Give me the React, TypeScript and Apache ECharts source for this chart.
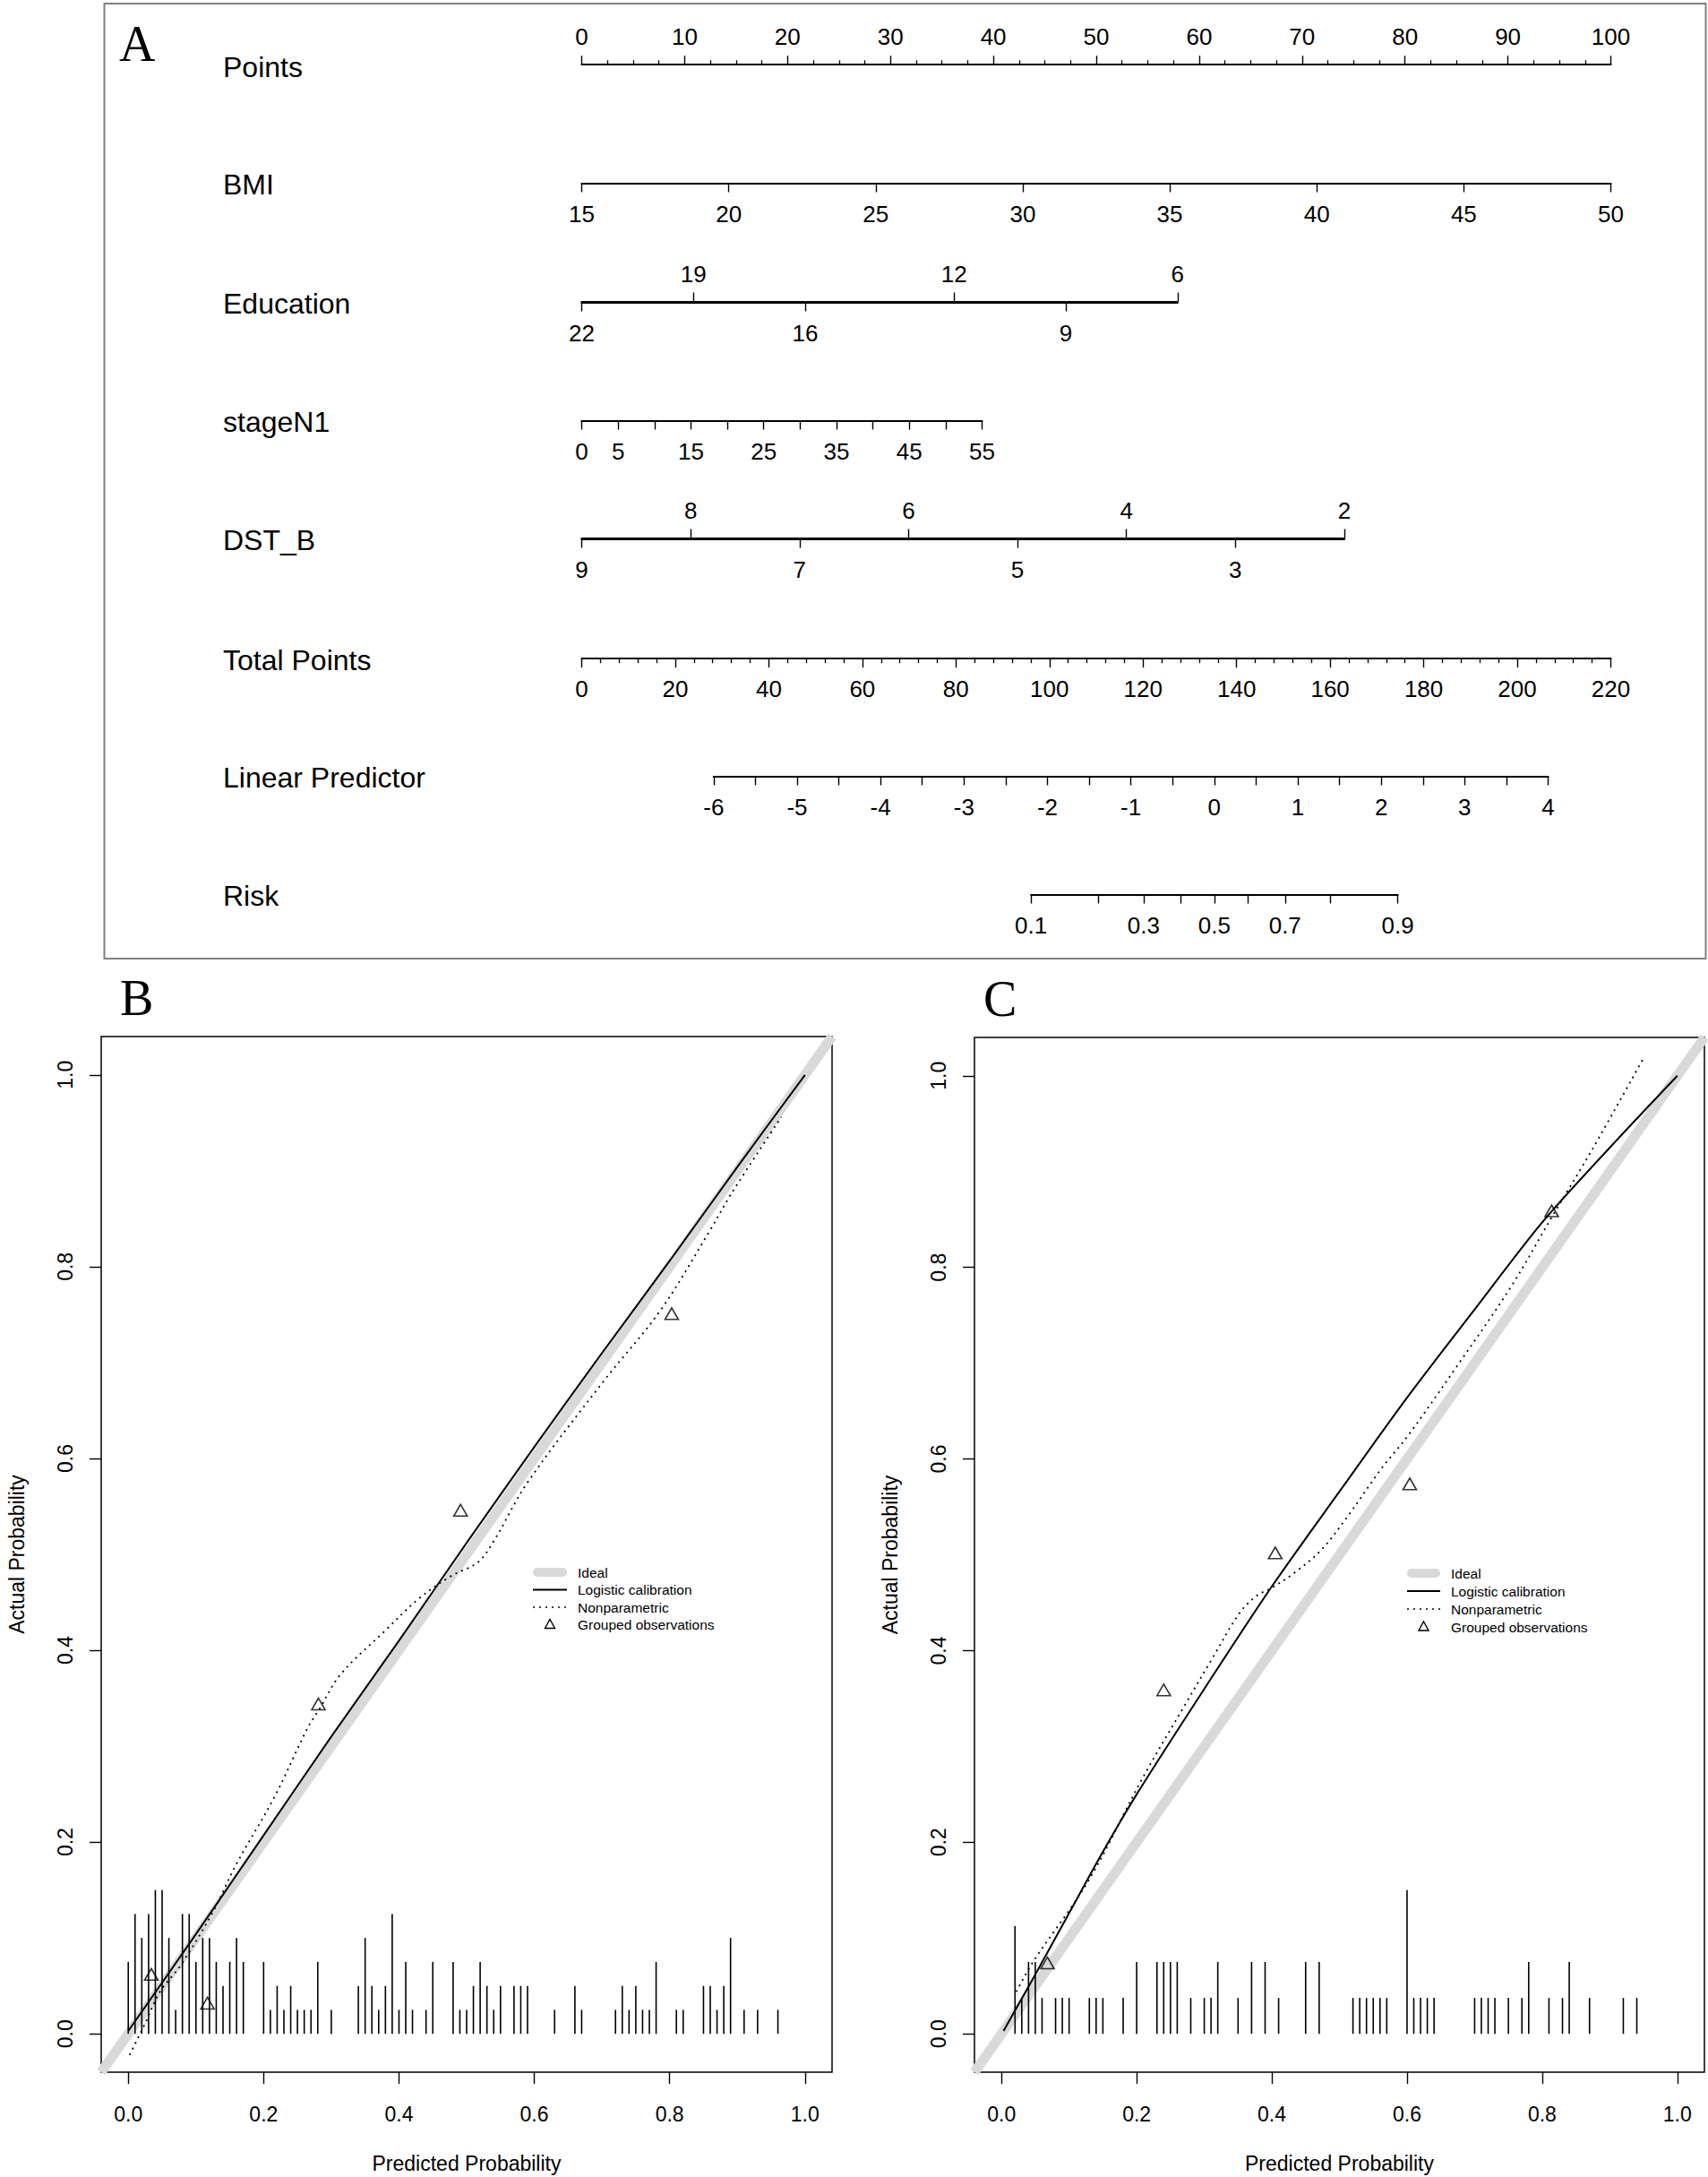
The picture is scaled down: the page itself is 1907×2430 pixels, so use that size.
import React, { useEffect, useRef } from "react";
import * as echarts from "echarts";

// ---------------- Panel A: nomogram values ----------------
const rowLabels = ["Points", "BMI", "Education", "stageN1", "DST_B", "Total Points", "Linear Predictor", "Risk"];
const pointsRange = [0, 100];
const bmiRange = [15, 50];
const bmiPoints = [0, 100];
const eduRange = [6, 22];
const eduPoints = [0, 57.9]; // 22 -> 0 pts, 6 -> 57.9 pts
const eduTopTicks = [19, 12, 6];
const eduBottomTicks = [22, 16, 9];
const stageRange = [0, 55];
const stagePoints = [0, 38.9];
const stageLabels = [0, 5, 15, 25, 35, 45, 55];
const dstRange = [2, 9];
const dstPoints = [0, 74.1]; // 9 -> 0 pts, 2 -> 74.1 pts
const dstTopTicks = [8, 6, 4, 2];
const dstBottomTicks = [9, 7, 5, 3];
const totalRange = [0, 220];
const lpRange = [-6, 4];
const lpTotalPoints = [28.2, 206.6];
const lpLabels = [-6, -5, -4, -3, -2, -1, 0, 1, 2, 3, 4];
const riskTicks = [0.1, 0.2, 0.3, 0.4, 0.5, 0.6, 0.7, 0.8, 0.9];
const riskLabels = [0.1, 0.3, 0.5, 0.7, 0.9];

// ---------------- Panels B and C: calibration values ----------------
const calTicks = [0, 0.2, 0.4, 0.6, 0.8, 1.0];
const calRange = [-0.04, 1.04];
const legendLabels = ["Ideal", "Logistic calibration", "Nonparametric", "Grouped observations"];

const logisticB = [
  [0, 0.003], [0.1, 0.104], [0.2, 0.207], [0.3, 0.31], [0.4, 0.41], [0.5, 0.512],
  [0.6, 0.612], [0.7, 0.71], [0.8, 0.806], [0.9, 0.904], [1.0, 1.0],
];
const nonparB = [
  [0.002, -0.022], [0.026, 0.0125], [0.047, 0.044], [0.078, 0.072], [0.125, 0.127],
  [0.159, 0.176], [0.216, 0.247], [0.265, 0.319], [0.281, 0.337], [0.314, 0.375],
  [0.379, 0.42], [0.428, 0.453], [0.476, 0.477], [0.517, 0.492], [0.541, 0.515],
  [0.59, 0.575], [0.704, 0.682], [0.786, 0.754], [0.859, 0.837], [0.891, 0.876], [0.965, 0.956],
];
const groupedB = [[0.034, 0.062], [0.117, 0.032], [0.281, 0.344], [0.491, 0.546], [0.803, 0.751]];
const rugBx = [
  0, 0.01, 0.02, 0.03, 0.04, 0.05, 0.06, 0.07, 0.08, 0.09, 0.1, 0.11, 0.12, 0.13, 0.14, 0.15, 0.16, 0.17,
  0.2, 0.21, 0.22, 0.23, 0.24, 0.25, 0.26, 0.27, 0.28, 0.3, 0.34, 0.35, 0.36, 0.37, 0.38, 0.39, 0.4,
  0.41, 0.42, 0.44, 0.45, 0.48, 0.49, 0.5, 0.51, 0.52, 0.53, 0.54, 0.55, 0.57, 0.58, 0.59, 0.63, 0.66,
  0.67, 0.72, 0.73, 0.74, 0.75, 0.76, 0.77, 0.78, 0.81, 0.82, 0.85, 0.86, 0.87, 0.88, 0.89, 0.91, 0.93, 0.96,
];
const rugBn = [
  3, 5, 4, 5, 6, 6, 4, 1, 5, 5, 3, 4, 4, 3, 2, 3, 4, 3,
  3, 1, 2, 1, 2, 1, 1, 1, 3, 1, 2, 4, 2, 1, 2, 5, 1,
  3, 1, 1, 3, 3, 1, 1, 2, 3, 2, 1, 2, 2, 2, 2, 1, 2,
  1, 1, 2, 1, 2, 1, 1, 3, 1, 1, 2, 2, 1, 2, 4, 1, 1, 1,
];

const logisticC = [
  [0.003, 0.003], [0.05, 0.062], [0.1, 0.126], [0.15, 0.19], [0.2, 0.25], [0.3, 0.36],
  [0.4, 0.467], [0.5, 0.566], [0.6, 0.664], [0.7, 0.756], [0.8, 0.847], [0.9, 0.925], [1.0, 1.0],
];
const nonparC = [
  [0.022, 0.044], [0.047, 0.0755], [0.128, 0.159], [0.208, 0.266], [0.272, 0.344],
  [0.312, 0.392], [0.352, 0.439], [0.377, 0.457], [0.401, 0.466], [0.433, 0.481],
  [0.473, 0.505], [0.513, 0.541], [0.561, 0.589], [0.601, 0.624], [0.673, 0.696],
  [0.754, 0.78], [0.818, 0.857], [0.874, 0.923], [0.95, 1.0185],
];
const groupedC = [[0.068, 0.074], [0.24, 0.359], [0.405, 0.502], [0.604, 0.574], [0.814, 0.859]];
const rugCx = [
  0.02, 0.03, 0.04, 0.05, 0.06, 0.08, 0.09, 0.1, 0.13, 0.14, 0.15, 0.18, 0.2, 0.23, 0.24, 0.25, 0.26,
  0.28, 0.3, 0.31, 0.32, 0.35, 0.37, 0.39, 0.41, 0.45, 0.47, 0.52, 0.53, 0.54, 0.55, 0.56, 0.57, 0.6,
  0.61, 0.62, 0.63, 0.64, 0.7, 0.71, 0.72, 0.73, 0.75, 0.77, 0.78, 0.81, 0.83, 0.84, 0.87, 0.92, 0.94,
];
const rugCn = [
  3, 1, 2, 2, 1, 1, 1, 1, 1, 1, 1, 1, 2, 2, 2, 2, 2,
  1, 1, 1, 2, 1, 2, 2, 1, 2, 2, 1, 1, 1, 1, 1, 1, 4,
  1, 1, 1, 1, 1, 1, 1, 1, 1, 1, 2, 1, 1, 2, 1, 1, 1,
];
const riserMax = 0.15;

// ---------------- layout ----------------
const SANS = "'Liberation Sans', Arial, Helvetica, sans-serif";
const SERIF = "'Liberation Serif', 'Times New Roman', serif";
const P0X = 649.5;
const P100X = 1798.5;
const ptX = (p: number) => P0X + (p / 100) * (P100X - P0X);
const totX = (t: number) => P0X + (t / totalRange[1]) * (P100X - P0X);
const logit = (p: number) => Math.log(p / (1 - p));
const expit = (v: number) => 1 / (1 + Math.exp(-v));
const lpLeft = totX(lpTotalPoints[0]);
const lpRight = totX(lpTotalPoints[1]);
const lpX = (v: number) => lpLeft + ((v - lpRange[0]) / (lpRange[1] - lpRange[0])) * (lpRight - lpLeft);
const rowY = [72.7, 204, 337, 469, 601, 734.7, 866, 998];

function nomGrid(i: number, x0: number, x1: number) {
  return { left: x0, top: rowY[i] - 0.5, width: x1 - x0, height: 1, outerBoundsMode: "none", containLabel: false };
}

function nomAxis(gridIndex: number, position: string, min: number, max: number, opts: any = {}) {
  return {
    gridIndex,
    type: "value",
    position,
    min,
    max,
    inverse: !!opts.inverse,
    interval: opts.interval,
    splitLine: { show: false },
    axisLine: { show: true, onZero: false, lineStyle: { color: "#000", width: 2.2 } },
    axisTick: {
      show: true,
      length: 10,
      inside: false,
      lineStyle: { color: "#000", width: 1.4 },
      ...(opts.tickValues ? { customValues: opts.tickValues } : {}),
    },
    minorTick: opts.minor
      ? { show: true, splitNumber: opts.minor, length: 5, lineStyle: { color: "#000", width: 1.3 } }
      : { show: false },
    axisLabel: {
      show: true,
      margin: position === "top" ? 18 : 21,
      color: "#000",
      fontFamily: SANS,
      fontSize: 26,
      showMinLabel: true,
      showMaxLabel: true,
      ...(opts.labelValues ? { customValues: opts.labelValues } : {}),
      ...(opts.formatter ? { formatter: opts.formatter } : {}),
    },
  };
}

function calXAxis(gridIndex: number) {
  return {
    gridIndex,
    type: "value",
    min: calRange[0],
    max: calRange[1],
    position: "bottom",
    splitLine: { show: false },
    axisLine: { show: false, onZero: false },
    axisTick: { show: true, length: 13, inside: false, customValues: calTicks, lineStyle: { color: "#000", width: 1.4 } },
    axisLabel: {
      margin: 35,
      color: "#000",
      fontFamily: SANS,
      fontSize: 23,
      customValues: calTicks,
      formatter: (v: number) => v.toFixed(1),
    },
    name: "Predicted Probability",
    nameLocation: "middle",
    nameGap: 90,
    nameMoveOverlap: false,
    nameTextStyle: { color: "#000", fontFamily: SANS, fontSize: 23 },
  };
}

function calYAxis(gridIndex: number) {
  return {
    gridIndex,
    type: "value",
    min: calRange[0],
    max: calRange[1],
    position: "left",
    splitLine: { show: false },
    axisLine: { show: false, onZero: false },
    axisTick: { show: true, length: 13, inside: false, customValues: calTicks, lineStyle: { color: "#000", width: 1.4 } },
    axisLabel: {
      margin: 29,
      rotate: 90,
      color: "#000",
      fontFamily: SANS,
      fontSize: 23,
      customValues: calTicks,
      formatter: (v: number) => v.toFixed(1),
    },
    name: "Actual Probability",
    nameLocation: "middle",
    nameRotate: 90,
    nameGap: 83,
    nameMoveOverlap: false,
    nameTextStyle: { color: "#000", fontFamily: SANS, fontSize: 23 },
  };
}

function panelSeries(xAxisIndex: number, yAxisIndex: number, logistic: number[][], nonpar: number[][], grouped: number[][], rugX: number[], rugN: number[]) {
  const maxN = Math.max(...rugN);
  const rug = rugX.map((x, i) => [x, (rugN[i] / maxN) * riserMax]);
  return [
    {
      type: "line",
      xAxisIndex,
      yAxisIndex,
      data: [[calRange[0], calRange[0]], [calRange[1], calRange[1]]],
      showSymbol: false,
      silent: true,
      z: 1,
      lineStyle: { color: "#d9d9d9", width: 11 },
    },
    {
      type: "custom",
      xAxisIndex,
      yAxisIndex,
      data: rug,
      z: 2,
      silent: true,
      renderItem: (params: any, api: any) => {
        const p0 = api.coord([api.value(0), 0]);
        const p1 = api.coord([api.value(0), api.value(1)]);
        return {
          type: "line",
          shape: { x1: p0[0], y1: p0[1], x2: p1[0], y2: p1[1] },
          style: { stroke: "#000", lineWidth: 1.6 },
        };
      },
    },
    {
      type: "line",
      xAxisIndex,
      yAxisIndex,
      data: logistic,
      smooth: 0.3,
      showSymbol: false,
      silent: true,
      z: 3,
      lineStyle: { color: "#000", width: 2 },
    },
    {
      type: "line",
      xAxisIndex,
      yAxisIndex,
      data: nonpar,
      smooth: 0.35,
      showSymbol: false,
      silent: true,
      z: 3,
      lineStyle: { color: "#000", width: 1.8, type: [2, 5] },
    },
    {
      type: "scatter",
      xAxisIndex,
      yAxisIndex,
      data: grouped,
      symbol: "triangle",
      symbolSize: [15, 13],
      silent: true,
      z: 4,
      itemStyle: { color: "rgba(0,0,0,0)", borderColor: "#000", borderWidth: 1.6 },
    },
  ];
}

function legendGraphics(lineX0: number, lineX1: number, textX: number, y0: number, dy: number) {
  const els: any[] = [];
  const ys = [0, 1, 2, 3].map((i) => y0 + i * dy);
  els.push({ type: "line", shape: { x1: lineX0 + 5, y1: ys[0], x2: lineX1 - 5, y2: ys[0] }, style: { stroke: "#d9d9d9", lineWidth: 10, lineCap: "round" } });
  els.push({ type: "line", shape: { x1: lineX0, y1: ys[1], x2: lineX1, y2: ys[1] }, style: { stroke: "#000", lineWidth: 1.8 } });
  els.push({ type: "line", shape: { x1: lineX0, y1: ys[2], x2: lineX1, y2: ys[2] }, style: { stroke: "#000", lineWidth: 1.6, lineDash: [2, 5] } });
  const cx = (lineX0 + lineX1) / 2;
  const cy = ys[3];
  els.push({
    type: "polygon",
    shape: { points: [[cx, cy - 6], [cx + 5.5, cy + 4], [cx - 5.5, cy + 4]] },
    style: { fill: "none", stroke: "#000", lineWidth: 1.4 },
  });
  legendLabels.forEach((t, i) => {
    els.push({
      type: "text",
      x: textX,
      y: ys[i],
      style: { text: t, fill: "#000", fontFamily: SANS, fontSize: 15.5, textAlign: "left", textVerticalAlign: "middle", align: "left", verticalAlign: "middle" },
    });
  });
  return els;
}

function textEl(t: string, x: number, y: number, size: number, family: string) {
  return {
    type: "text",
    x,
    y,
    style: { text: t, fill: "#000", fontFamily: family, fontSize: size, textAlign: "left", textVerticalAlign: "middle", align: "left", verticalAlign: "middle" },
  };
}

export default function App() {
  const ref = useRef<HTMLDivElement>(null);
  useEffect(() => {
    if (!ref.current) return;
    const chart = echarts.init(ref.current, null, { renderer: "svg" });

    const riskMin = logit(riskTicks[0]);
    const riskMax = logit(riskTicks[riskTicks.length - 1]);

    const grids: any[] = [
      nomGrid(0, ptX(pointsRange[0]), ptX(pointsRange[1])),
      nomGrid(1, ptX(bmiPoints[0]), ptX(bmiPoints[1])),
      nomGrid(2, ptX(eduPoints[0]), ptX(eduPoints[1])),
      nomGrid(3, ptX(stagePoints[0]), ptX(stagePoints[1])),
      nomGrid(4, ptX(dstPoints[0]), ptX(dstPoints[1])),
      nomGrid(5, totX(totalRange[0]), totX(totalRange[1])),
      nomGrid(6, lpLeft, lpRight),
      nomGrid(7, lpX(riskMin), lpX(riskMax)),
      { left: 113, top: 1157, width: 816, height: 1156, show: true, borderColor: "#000", borderWidth: 1.5, backgroundColor: "rgba(0,0,0,0)", outerBoundsMode: "none", containLabel: false },
      { left: 1088, top: 1158, width: 815, height: 1155, show: true, borderColor: "#000", borderWidth: 1.5, backgroundColor: "rgba(0,0,0,0)", outerBoundsMode: "none", containLabel: false },
    ];

    const xAxes: any[] = [
      nomAxis(0, "top", pointsRange[0], pointsRange[1], { interval: 10, minor: 4 }),
      nomAxis(1, "bottom", bmiRange[0], bmiRange[1], { interval: 5 }),
      nomAxis(2, "top", eduRange[0], eduRange[1], { inverse: true, tickValues: eduTopTicks, labelValues: eduTopTicks }),
      nomAxis(2, "bottom", eduRange[0], eduRange[1], { inverse: true, tickValues: eduBottomTicks, labelValues: eduBottomTicks }),
      nomAxis(3, "bottom", stageRange[0], stageRange[1], { interval: 5, labelValues: stageLabels }),
      nomAxis(4, "top", dstRange[0], dstRange[1], { inverse: true, tickValues: dstTopTicks, labelValues: dstTopTicks }),
      nomAxis(4, "bottom", dstRange[0], dstRange[1], { inverse: true, tickValues: dstBottomTicks, labelValues: dstBottomTicks }),
      nomAxis(5, "bottom", totalRange[0], totalRange[1], { interval: 20, minor: 5 }),
      nomAxis(6, "bottom", lpRange[0], lpRange[1], { interval: 0.5, labelValues: lpLabels }),
      nomAxis(7, "bottom", riskMin, riskMax, {
        tickValues: riskTicks.map(logit),
        labelValues: riskLabels.map(logit),
        formatter: (v: number) => expit(v).toFixed(1),
      }),
      calXAxis(8),
      calXAxis(9),
    ];

    const yAxes: any[] = [];
    for (let i = 0; i < 8; i++) {
      yAxes.push({ gridIndex: i, type: "value", min: 0, max: 1, show: false });
    }
    yAxes.push(calYAxis(8));
    yAxes.push(calYAxis(9));

    const series: any[] = [
      ...panelSeries(10, 8, logisticB, nonparB, groupedB, rugBx, rugBn),
      ...panelSeries(11, 9, logisticC, nonparC, groupedC, rugCx, rugCn),
    ];

    const graphics: any[] = [
      {
        type: "rect",
        shape: { x: 116.5, y: 4, width: 1788, height: 1066 },
        style: { fill: "none", stroke: "#808080", lineWidth: 2 },
      },
      textEl("A", 133, 49, 56, SERIF),
      textEl("B", 134, 1114, 56, SERIF),
      textEl("C", 1098, 1115, 56, SERIF),
      ...rowLabels.map((t, i) => textEl(t, 249, rowY[i] + 2, 32, SANS)),
      ...legendGraphics(595, 633, 645, 1755, 19.5),
      ...legendGraphics(1571, 1608, 1620, 1756, 20),
    ];

    chart.setOption({
      animation: false,
      backgroundColor: "#fff",
      textStyle: { fontFamily: SANS },
      grid: grids,
      xAxis: xAxes,
      yAxis: yAxes,
      series,
      graphic: { elements: graphics },
    });

    return () => chart.dispose();
  }, []);

  return <div ref={ref} style={{ position: "absolute", left: 0, top: 0, width: 1907, height: 2430 }} />;
}
